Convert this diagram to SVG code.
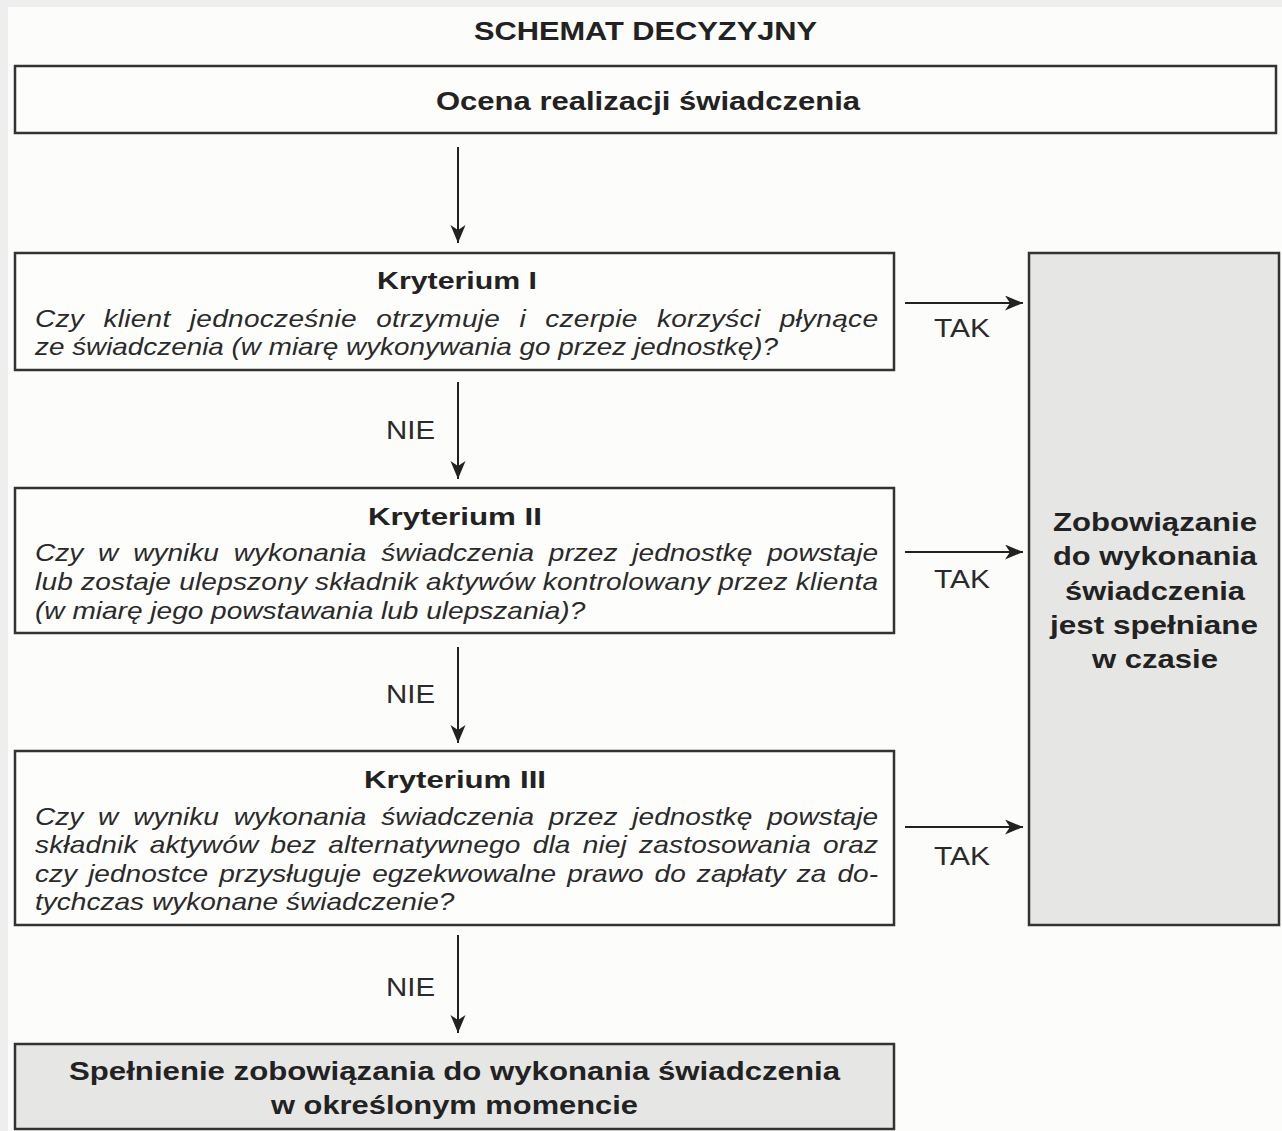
<svg xmlns="http://www.w3.org/2000/svg" width="1282" height="1131" viewBox="0 0 1282 1131">
  <style>
    .box { fill: #fdfdfb; stroke: #333333; stroke-width: 2.5; }
    .gbox { fill: #e6e7e5; stroke: #333333; stroke-width: 2.5; }
    .b24 { font-family: "Liberation Sans", Arial, sans-serif; font-weight: bold; font-size: 26px; fill: #222222; }
    .b21 { font-family: "Liberation Sans", Arial, sans-serif; font-weight: bold; font-size: 24px; fill: #222222; }
    .lbl { font-family: "Liberation Sans", Arial, sans-serif; font-size: 26px; fill: #2a2a2a; }
    .it { font-family: "Liberation Sans", Arial, sans-serif; font-style: italic; font-size: 23px; fill: #2a2a2a; }
    .conn { stroke: #222222; stroke-width: 2; fill: none; marker-end: url(#ah); }
  </style>
  <defs>
    <marker id="ah" markerUnits="userSpaceOnUse" markerWidth="20" markerHeight="16" refX="18" refY="7.5" orient="auto">
      <path d="M0,0 L18,7.5 L0,15 L5,7.5 Z" fill="#222222"/>
    </marker>
  </defs>

  <rect x="0" y="0" width="1282" height="1131" fill="#eeeeee"/>
  <rect x="8" y="7" width="1274" height="1124" fill="#fcfcfa"/>

  <g id="title">
    <text class="b24" x="474" y="40" textLength="343" lengthAdjust="spacingAndGlyphs">SCHEMAT DECYZYJNY</text>
  </g>

  <g id="ocena">
    <rect class="box" x="15" y="66" width="1261" height="67"/>
    <text class="b24" x="436" y="110" textLength="424" lengthAdjust="spacingAndGlyphs">Ocena realizacji świadczenia</text>
  </g>

  <g id="kryterium1">
    <rect class="box" x="15" y="253" width="879" height="117"/>
    <text class="b21" x="377" y="289" textLength="160" lengthAdjust="spacingAndGlyphs">Kryterium I</text>
    <text class="it" transform="translate(35,327) scale(1.22,1)" x="0" y="0" word-spacing="9.2" textLength="691" lengthAdjust="spacing">Czy klient jednocześnie otrzymuje i czerpie korzyści płynące</text>
    <text class="it" transform="translate(35,355) scale(1.22,1)" x="0" y="0" textLength="609" lengthAdjust="spacingAndGlyphs">ze świadczenia (w miarę wykonywania go przez jednostkę)?</text>
  </g>

  <g id="kryterium2">
    <rect class="box" x="15" y="488" width="879" height="145"/>
    <text class="b21" x="368" y="525" textLength="174" lengthAdjust="spacingAndGlyphs">Kryterium II</text>
    <text class="it" transform="translate(35,561) scale(1.22,1)" x="0" y="0" word-spacing="5.7" textLength="691" lengthAdjust="spacing">Czy w wyniku wykonania świadczenia przez jednostkę powstaje</text>
    <text class="it" transform="translate(35,590) scale(1.22,1)" x="0" y="0" textLength="691" lengthAdjust="spacing">lub zostaje ulepszony składnik aktywów kontrolowany przez klienta</text>
    <text class="it" transform="translate(35,619) scale(1.22,1)" x="0" y="0">(w miarę jego powstawania lub ulepszania)?</text>
  </g>

  <g id="kryterium3">
    <rect class="box" x="15" y="751" width="879" height="174"/>
    <text class="b21" x="364" y="788" textLength="182" lengthAdjust="spacingAndGlyphs">Kryterium III</text>
    <text class="it" transform="translate(35,825) scale(1.22,1)" x="0" y="0" word-spacing="5.7" textLength="691" lengthAdjust="spacing">Czy w wyniku wykonania świadczenia przez jednostkę powstaje</text>
    <text class="it" transform="translate(35,853) scale(1.22,1)" x="0" y="0" word-spacing="3.4" textLength="691" lengthAdjust="spacing">składnik aktywów bez alternatywnego dla niej zastosowania oraz</text>
    <text class="it" transform="translate(35,882) scale(1.22,1)" x="0" y="0" word-spacing="2.7" textLength="691" lengthAdjust="spacing">czy jednostce przysługuje egzekwowalne prawo do zapłaty za do-</text>
    <text class="it" transform="translate(35,910) scale(1.22,1)" x="0" y="0">tychczas wykonane świadczenie?</text>
  </g>

  <g id="wczasie">
    <rect class="gbox" x="1029" y="253" width="250" height="672"/>
    <text class="b24" x="1053" y="531" textLength="204" lengthAdjust="spacingAndGlyphs">Zobowiązanie</text>
    <text class="b24" x="1053" y="565" textLength="204" lengthAdjust="spacingAndGlyphs">do wykonania</text>
    <text class="b24" x="1065" y="600" textLength="180" lengthAdjust="spacingAndGlyphs">świadczenia</text>
    <text class="b24" x="1050" y="634" textLength="208" lengthAdjust="spacingAndGlyphs">jest spełniane</text>
    <text class="b24" x="1092" y="668" textLength="126" lengthAdjust="spacingAndGlyphs">w czasie</text>
  </g>

  <g id="wmomencie">
    <rect class="gbox" x="15" y="1044" width="879" height="85"/>
    <text class="b24" x="69" y="1080" textLength="771" lengthAdjust="spacingAndGlyphs">Spełnienie zobowiązania do wykonania świadczenia</text>
    <text class="b24" x="271" y="1114" textLength="367" lengthAdjust="spacingAndGlyphs">w określonym momencie</text>
  </g>

  <g id="connectors">
    <line class="conn" x1="458" y1="147" x2="458" y2="243"/>
    <line class="conn" x1="458" y1="382" x2="458" y2="479"/>
    <line class="conn" x1="458" y1="647" x2="458" y2="743"/>
    <line class="conn" x1="458" y1="935" x2="458" y2="1033"/>
    <line class="conn" x1="905" y1="303" x2="1023" y2="303"/>
    <line class="conn" x1="905" y1="552" x2="1023" y2="552"/>
    <line class="conn" x1="905" y1="827" x2="1023" y2="827"/>
    <text class="lbl" x="386" y="439" textLength="49" lengthAdjust="spacingAndGlyphs">NIE</text>
    <text class="lbl" x="386" y="703" textLength="49" lengthAdjust="spacingAndGlyphs">NIE</text>
    <text class="lbl" x="386" y="996" textLength="49" lengthAdjust="spacingAndGlyphs">NIE</text>
    <text class="lbl" x="934" y="337" textLength="56" lengthAdjust="spacingAndGlyphs">TAK</text>
    <text class="lbl" x="934" y="588" textLength="56" lengthAdjust="spacingAndGlyphs">TAK</text>
    <text class="lbl" x="934" y="865" textLength="56" lengthAdjust="spacingAndGlyphs">TAK</text>
  </g>
</svg>
